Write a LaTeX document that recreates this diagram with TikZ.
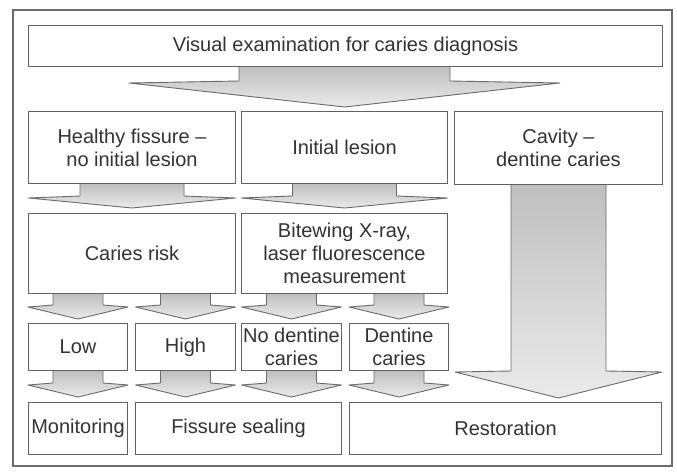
\documentclass[tikz,border=0pt]{standalone}
\usepackage{fontspec}
\setmainfont{Liberation Sans}
\usetikzlibrary{calc}
\pgfdeclarelayer{bg}
\pgfdeclarelayer{back}
\pgfsetlayers{back,bg,main}
\tikzset{
  box/.style={draw=black!62, line width=1pt, fill=white, anchor=north west,
    inner sep=0pt, align=center, text=black!80,
    font=\fontsize{20}{23}\selectfont},
  fatline/.style={draw=black!58, line width=0.9pt, line join=round},
  fatfill/.style={top color=black!25, bottom color=black!8},
  framebox/.style={draw=black!58, line width=1.2pt},
}
% #1 stem top centre, #2 tip, #3 stem half width, #4 wing half width,
% #5 head length, #6 wing slope
\newcommand{\fatarrow}[6]{%
  \begin{pgfonlayer}{bg}
    \coordinate (S) at #1;
    \coordinate (T) at #2;
    \path[fatfill] ($(S)+(-#3,0)$) -- ($(T)+(-#3,-#5-#6)$) -- ($(T)+(-#4,-#5)$)
      -- (T) -- ($(T)+(#4,-#5)$) -- ($(T)+(#3,-#5-#6)$) -- ($(S)+(#3,0)$) -- cycle;
    \draw[fatline] ($(S)+(-#3,0)$) -- ($(T)+(-#3,-#5-#6)$) -- ($(T)+(-#4,-#5)$)
      -- (T) -- ($(T)+(#4,-#5)$) -- ($(T)+(#3,-#5-#6)$) -- ($(S)+(#3,0)$);
  \end{pgfonlayer}}
\begin{document}
\begin{tikzpicture}[x=1pt,y=-1pt]
  \useasboundingbox (0,0) rectangle (677,471);
  \begin{pgfonlayer}{back}
    \fill[white] (0,0) rectangle (677,471);
    \draw[framebox] (13,10) rectangle (672,466);
  \end{pgfonlayer}

  % boxes
  \node[box, minimum width=634pt, minimum height=41pt] (top) at (28,25)
    {Visual examination for caries diagnosis};
  \node[box, minimum width=207pt, minimum height=72pt] (hf) at (28,111)
    {Healthy fissure --\\no initial lesion};
  \node[box, minimum width=206pt, minimum height=72pt] (il) at (241,111)
    {Initial lesion};
  \node[box, minimum width=208pt, minimum height=73pt] (cav) at (454,111)
    {Cavity --\\dentine caries};
  \node[box, minimum width=207pt, minimum height=80pt] (cr) at (28,213)
    {Caries risk};
  \node[box, minimum width=206pt, minimum height=80pt] (bw) at (241,213)
    {Bitewing X-ray,\\laser fluorescence\\measurement};
  \node[box, minimum width=99pt, minimum height=47pt] (low) at (28,323) {Low};
  \node[box, minimum width=100pt, minimum height=47pt] (high) at (135,323) {High};
  \node[box, minimum width=100pt, minimum height=47pt] (nod) at (241,323)
    {No dentine\\caries};
  \node[box, minimum width=99pt, minimum height=47pt] (den) at (349,323)
    {Dentine\\caries};
  \node[box, minimum width=99pt, minimum height=52pt] (mon) at (28,402)
    {Monitoring};
  \node[box, minimum width=206pt, minimum height=52pt] (fis) at (135,402)
    {Fissure sealing};
  \node[box, minimum width=312pt, minimum height=52pt] (res) at (349,402)
    {Restoration};

  % fat arrows
  \fatarrow{(top.south -| il.north)}{($(il.north)+(0,-4)$)}{105.5}{215.5}{24}{2}
  \fatarrow{(hf.south)}{($(cr.north)+(0,-5)$)}{52}{103.5}{10}{2}
  \fatarrow{(il.south)}{($(bw.north)+(0,-5)$)}{52}{103}{10}{2}
  \fatarrow{(cav.south)}{($(cav.south |- res.north)+(0,-4)$)}{47.5}{103.5}{26}{1}
  \fatarrow{(cr.south -| low.north)}{($(low.north)+(0,-4)$)}{25}{50}{12}{2}
  \fatarrow{(cr.south -| high.north)}{($(high.north)+(0,-4)$)}{25}{50}{12}{2}
  \fatarrow{(bw.south -| nod.north)}{($(nod.north)+(0,-4)$)}{25}{50}{12}{2}
  \fatarrow{(bw.south -| den.north)}{($(den.north)+(0,-4)$)}{25}{50}{12}{2}
  \fatarrow{(low.south)}{($(low.south |- mon.north)+(0,-5)$)}{25}{50}{12}{2}
  \fatarrow{(high.south)}{($(high.south |- fis.north)+(0,-5)$)}{25}{50}{12}{2}
  \fatarrow{(nod.south)}{($(nod.south |- fis.north)+(0,-5)$)}{25}{50}{12}{2}
  \fatarrow{(den.south)}{($(den.south |- res.north)+(0,-5)$)}{25}{50}{12}{2}
\end{tikzpicture}
\end{document}
